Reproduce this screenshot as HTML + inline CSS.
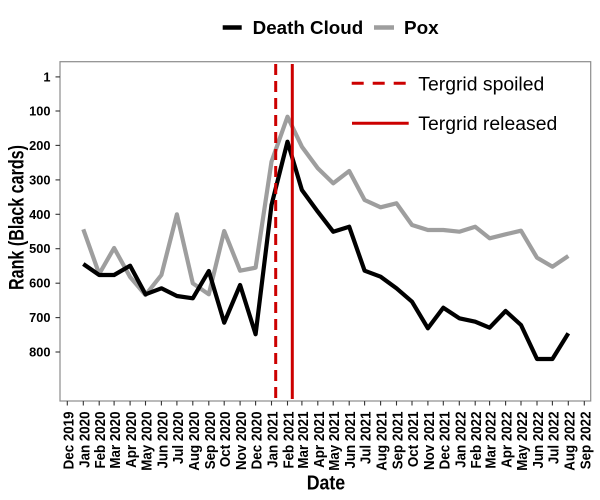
<!DOCTYPE html>
<html>
<head>
<meta charset="utf-8">
<style>
html,body{margin:0;padding:0;background:#fff;}
svg{display:block;font-family:"Liberation Sans",Arial,sans-serif;}
</style>
</head>
<body>
<svg width="600" height="500" viewBox="0 0 600 500" xmlns="http://www.w3.org/2000/svg">
<rect x="0" y="0" width="600" height="500" fill="#fff"/>

<!-- top legend -->
<line x1="222.7" y1="27.5" x2="241.7" y2="27.5" stroke="#000" stroke-width="4.5"/>
<text x="252.7" y="34" font-size="18.5" font-weight="bold" fill="#000" textLength="110.5" lengthAdjust="spacingAndGlyphs">Death Cloud</text>
<line x1="374" y1="27.5" x2="394" y2="27.5" stroke="#9e9e9e" stroke-width="4.5"/>
<text x="404" y="34" font-size="18.5" font-weight="bold" fill="#000" textLength="34.7" lengthAdjust="spacingAndGlyphs">Pox</text>

<!-- plot panel border -->
<rect x="60" y="61.7" width="530.7" height="339.3" fill="none" stroke="#8c8c8c" stroke-width="1.2"/>

<!-- y ticks -->
<g stroke="#333" stroke-width="1.1">
<line x1="55.5" y1="76.9" x2="60" y2="76.9"/>
<line x1="55.5" y1="111" x2="60" y2="111"/>
<line x1="55.5" y1="145.4" x2="60" y2="145.4"/>
<line x1="55.5" y1="179.9" x2="60" y2="179.9"/>
<line x1="55.5" y1="214.3" x2="60" y2="214.3"/>
<line x1="55.5" y1="248.7" x2="60" y2="248.7"/>
<line x1="55.5" y1="283.2" x2="60" y2="283.2"/>
<line x1="55.5" y1="317.6" x2="60" y2="317.6"/>
<line x1="55.5" y1="352" x2="60" y2="352"/>
</g>
<g font-size="12.8" font-weight="bold" fill="#000" text-anchor="end">
<text x="50.5" y="81.4">1</text>
<text x="50.5" y="115.5">100</text>
<text x="50.5" y="149.9">200</text>
<text x="50.5" y="184.4">300</text>
<text x="50.5" y="218.8">400</text>
<text x="50.5" y="253.2">500</text>
<text x="50.5" y="287.7">600</text>
<text x="50.5" y="322.1">700</text>
<text x="50.5" y="356.5">800</text>
</g>

<!-- y title -->
<text transform="translate(23.3,217.5) rotate(-90)" text-anchor="middle" font-size="21" font-weight="bold" fill="#000" textLength="145" lengthAdjust="spacingAndGlyphs">Rank (Black cards)</text>

<!-- x ticks -->
<g stroke="#333" stroke-width="1.1">
<line x1="67.3" y1="401" x2="67.3" y2="405.5"/>
<line x1="83.3" y1="401" x2="83.3" y2="405.5"/>
<line x1="99.2" y1="401" x2="99.2" y2="405.5"/>
<line x1="114.1" y1="401" x2="114.1" y2="405.5"/>
<line x1="130.1" y1="401" x2="130.1" y2="405.5"/>
<line x1="145.5" y1="401" x2="145.5" y2="405.5"/>
<line x1="161.4" y1="401" x2="161.4" y2="405.5"/>
<line x1="176.9" y1="401" x2="176.9" y2="405.5"/>
<line x1="192.8" y1="401" x2="192.8" y2="405.5"/>
<line x1="208.8" y1="401" x2="208.8" y2="405.5"/>
<line x1="224.2" y1="401" x2="224.2" y2="405.5"/>
<line x1="240.1" y1="401" x2="240.1" y2="405.5"/>
<line x1="255.6" y1="401" x2="255.6" y2="405.5"/>
<line x1="271.5" y1="401" x2="271.5" y2="405.5"/>
<line x1="287.5" y1="401" x2="287.5" y2="405.5"/>
<line x1="301.9" y1="401" x2="301.9" y2="405.5"/>
<line x1="317.8" y1="401" x2="317.8" y2="405.5"/>
<line x1="333.2" y1="401" x2="333.2" y2="405.5"/>
<line x1="349.2" y1="401" x2="349.2" y2="405.5"/>
<line x1="364.6" y1="401" x2="364.6" y2="405.5"/>
<line x1="380.6" y1="401" x2="380.6" y2="405.5"/>
<line x1="396.5" y1="401" x2="396.5" y2="405.5"/>
<line x1="412.0" y1="401" x2="412.0" y2="405.5"/>
<line x1="427.9" y1="401" x2="427.9" y2="405.5"/>
<line x1="443.3" y1="401" x2="443.3" y2="405.5"/>
<line x1="459.3" y1="401" x2="459.3" y2="405.5"/>
<line x1="475.2" y1="401" x2="475.2" y2="405.5"/>
<line x1="489.6" y1="401" x2="489.6" y2="405.5"/>
<line x1="505.6" y1="401" x2="505.6" y2="405.5"/>
<line x1="521.0" y1="401" x2="521.0" y2="405.5"/>
<line x1="537.0" y1="401" x2="537.0" y2="405.5"/>
<line x1="552.4" y1="401" x2="552.4" y2="405.5"/>
<line x1="568.3" y1="401" x2="568.3" y2="405.5"/>
<line x1="584.3" y1="401" x2="584.3" y2="405.5"/>
</g>
<g font-size="14.5" font-weight="bold" fill="#000" text-anchor="end">
<text transform="translate(73.3,411.5) rotate(-90) scale(0.92,1)">Dec 2019</text>
<text transform="translate(89.3,411.5) rotate(-90) scale(0.92,1)">Jan 2020</text>
<text transform="translate(105.2,411.5) rotate(-90) scale(0.92,1)">Feb 2020</text>
<text transform="translate(120.1,411.5) rotate(-90) scale(0.92,1)">Mar 2020</text>
<text transform="translate(136.1,411.5) rotate(-90) scale(0.92,1)">Apr 2020</text>
<text transform="translate(151.5,411.5) rotate(-90) scale(0.92,1)">May 2020</text>
<text transform="translate(167.4,411.5) rotate(-90) scale(0.92,1)">Jun 2020</text>
<text transform="translate(182.9,411.5) rotate(-90) scale(0.92,1)">Jul 2020</text>
<text transform="translate(198.8,411.5) rotate(-90) scale(0.92,1)">Aug 2020</text>
<text transform="translate(214.8,411.5) rotate(-90) scale(0.92,1)">Sep 2020</text>
<text transform="translate(230.2,411.5) rotate(-90) scale(0.92,1)">Oct 2020</text>
<text transform="translate(246.1,411.5) rotate(-90) scale(0.92,1)">Nov 2020</text>
<text transform="translate(261.6,411.5) rotate(-90) scale(0.92,1)">Dec 2020</text>
<text transform="translate(277.5,411.5) rotate(-90) scale(0.92,1)">Jan 2021</text>
<text transform="translate(293.5,411.5) rotate(-90) scale(0.92,1)">Feb 2021</text>
<text transform="translate(307.9,411.5) rotate(-90) scale(0.92,1)">Mar 2021</text>
<text transform="translate(323.8,411.5) rotate(-90) scale(0.92,1)">Apr 2021</text>
<text transform="translate(339.2,411.5) rotate(-90) scale(0.92,1)">May 2021</text>
<text transform="translate(355.2,411.5) rotate(-90) scale(0.92,1)">Jun 2021</text>
<text transform="translate(370.6,411.5) rotate(-90) scale(0.92,1)">Jul 2021</text>
<text transform="translate(386.6,411.5) rotate(-90) scale(0.92,1)">Aug 2021</text>
<text transform="translate(402.5,411.5) rotate(-90) scale(0.92,1)">Sep 2021</text>
<text transform="translate(418.0,411.5) rotate(-90) scale(0.92,1)">Oct 2021</text>
<text transform="translate(433.9,411.5) rotate(-90) scale(0.92,1)">Nov 2021</text>
<text transform="translate(449.3,411.5) rotate(-90) scale(0.92,1)">Dec 2021</text>
<text transform="translate(465.3,411.5) rotate(-90) scale(0.92,1)">Jan 2022</text>
<text transform="translate(481.2,411.5) rotate(-90) scale(0.92,1)">Feb 2022</text>
<text transform="translate(495.6,411.5) rotate(-90) scale(0.92,1)">Mar 2022</text>
<text transform="translate(511.6,411.5) rotate(-90) scale(0.92,1)">Apr 2022</text>
<text transform="translate(527.0,411.5) rotate(-90) scale(0.92,1)">May 2022</text>
<text transform="translate(543.0,411.5) rotate(-90) scale(0.92,1)">Jun 2022</text>
<text transform="translate(558.4,411.5) rotate(-90) scale(0.92,1)">Jul 2022</text>
<text transform="translate(574.3,411.5) rotate(-90) scale(0.92,1)">Aug 2022</text>
<text transform="translate(590.3,411.5) rotate(-90) scale(0.92,1)">Sep 2022</text>
</g>

<!-- x title -->
<text x="306.7" y="489.3" font-size="20" font-weight="bold" fill="#000" textLength="38.5" lengthAdjust="spacingAndGlyphs">Date</text>

<!-- data: Pox (gray) -->
<polyline fill="none" stroke="#9e9e9e" stroke-width="4.2" stroke-linejoin="round" stroke-linecap="butt"
points="83.3,229.3 99.2,274 114.1,248 130.1,277 145.5,295 161.4,275 176.9,214.3 192.8,283.3 208.8,294.3 224.2,231 240.1,270.7 255.6,267.7 271.5,161.7 287.5,116.7 301.9,146.7 317.8,168.3 333.2,183.3 349.2,171 364.6,200 380.6,207.3 396.5,203.3 412.0,225 427.9,230 443.3,230 459.3,231.7 475.2,226.7 489.6,238.3 505.6,234.3 521.0,230.7 537.0,257.7 552.4,266.7 568.3,256"/>

<!-- data: Death Cloud (black) -->
<polyline fill="none" stroke="#000" stroke-width="4.2" stroke-linejoin="round" stroke-linecap="butt"
points="83.3,264 99.2,275 114.1,275 130.1,265.7 145.5,294.3 161.4,288.3 176.9,296 192.8,298.3 208.8,271 224.2,322.7 240.1,285 255.6,334.3 271.5,205 287.5,141.7 301.9,190 317.8,211.7 333.2,231.7 349.2,226.7 364.6,270.7 380.6,276.7 396.5,288.3 412.0,301.7 427.9,328.3 443.3,307.7 459.3,318.3 475.2,321.7 489.6,327.7 505.6,311 521.0,325 537.0,359 552.4,359 568.3,333.3"/>

<!-- vertical reference lines -->
<line x1="275.7" y1="64" x2="275.7" y2="399" stroke="#cc0000" stroke-width="3" stroke-dasharray="11 6"/>
<line x1="292.3" y1="64" x2="292.3" y2="399" stroke="#cc0000" stroke-width="3"/>

<!-- inner legend -->
<line x1="351.7" y1="83.3" x2="407.7" y2="83.3" stroke="#cc0000" stroke-width="3" stroke-dasharray="12 9"/>
<text x="418.3" y="90.7" font-size="19" fill="#000" textLength="126" lengthAdjust="spacingAndGlyphs">Tergrid spoiled</text>
<line x1="352" y1="123.3" x2="408.7" y2="123.3" stroke="#cc0000" stroke-width="3"/>
<text x="418.3" y="130" font-size="19" fill="#000" textLength="139" lengthAdjust="spacingAndGlyphs">Tergrid released</text>
</svg>
</body>
</html>
